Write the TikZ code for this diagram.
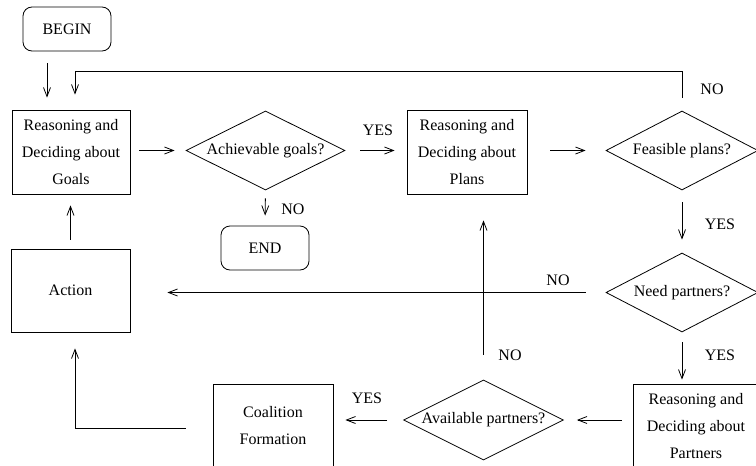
\documentclass[tikz,border=0pt]{standalone}
\usepackage{fontspec}
\setmainfont{Liberation Serif}
\usetikzlibrary{shapes.geometric,arrows.meta}
\begin{document}
\begin{tikzpicture}[x=1pt,y=-1pt,
  every node/.style={font=\fontsize{16}{27}\selectfont, inner sep=0pt},
  box/.style={draw, line width=0.8pt, align=center},
  term/.style={draw, line width=0.8pt, rounded corners=9pt, minimum width=88pt, minimum height=44pt},
  decision/.style={draw, line width=0.8pt, diamond, aspect=2},
  arr/.style={line width=0.8pt, -{Straight Barb[length=9pt,width=7pt]}},
  lbl/.style={}
]
\useasboundingbox (0,0) rectangle (756,466);
% terminals
\node[term] (begin) at (67,29) {BEGIN};
\node[term] (end) at (265,248) {END};
% boxes
\node[box, minimum width=118pt, minimum height=84pt] (goals) at (71,152) {Reasoning and\\Deciding about\\Goals};
\node[box, minimum width=120pt, minimum height=84pt] (plans) at (467,152) {Reasoning and\\Deciding about\\Plans};
\node[box, minimum width=119pt, minimum height=83pt] (action) at (70.5,290.5) {Action};
\node[box, minimum width=120pt, minimum height=84pt] (coal) at (273,426) {Coalition\\Formation};
\node[box, minimum width=126pt, minimum height=84pt] (partners) at (696,426) {Reasoning and\\Deciding about\\Partners};
% decisions
\node[decision, minimum width=159pt, minimum height=79pt] (ach) at (265.5,150.5) {\makebox[0pt]{Achievable goals?}};
\node[decision, minimum width=152pt, minimum height=79pt] (feas) at (682,150.5) {\makebox[0pt]{Feasible plans?}};
\node[decision, minimum width=152pt, minimum height=79pt] (need) at (682,292.5) {\makebox[0pt]{Need partners?}};
\node[decision, minimum width=160pt, minimum height=80pt] (avail) at (483.5,420) {\makebox[0pt]{Available partners?}};
% labels
\node[lbl] (l1) at (378,130) {YES};
\node[lbl] (l2) at (712,89) {NO};
\node[lbl] (l3) at (293,209) {NO};
\node[lbl] (l4) at (720,224) {YES};
\node[lbl] (l5) at (558,280) {NO};
\node[lbl] (l6) at (510,355) {NO};
\node[lbl] (l7) at (720,355) {YES};
\node[lbl] (l8) at (367,398) {YES};
% helper coordinates
\coordinate (c1) at (47,0);
\coordinate (looptop) at (75,71);
\coordinate (bend) at (75,428);
% connectors
\draw[arr, shorten <=12pt, shorten >=12pt] (begin.south -| c1) -- (goals.north -| c1);
\draw[arr, shorten <=13pt, shorten >=15pt] (feas.north) |- (looptop) -- (goals.north -| looptop);
\draw[arr, shorten <=9pt, shorten >=11pt] (goals.east |- ach.west) -- (ach.west);
\draw[arr, shorten <=15pt, shorten >=12pt] (ach.east) -- (plans.west |- ach.east);
\draw[arr, shorten <=23pt, shorten >=20pt] (plans.east |- feas.west) -- (feas.west);
\draw[arr, shorten <=8pt, shorten >=10pt] (ach.south) -- (end.north);
\draw[arr, shorten <=12pt, shorten >=13pt] (feas.south) -- (need.north);
\draw[arr, shorten <=20pt, shorten >=37pt] (need.west) -- (action.east |- need.west);
\draw[arr, shorten <=25pt, shorten >=26pt] (avail.north) -- (plans.south -| avail.north);
\draw[arr, shorten <=10pt, shorten >=4pt] (need.south) -- (partners.north -| need.south);
\draw[arr, shorten <=11pt, shorten >=13pt] (partners.west |- avail.east) -- (avail.east);
\draw[arr, shorten <=16pt, shorten >=12pt] (avail.west) -- (coal.east |- avail.west);
\draw[arr, shorten <=9pt, shorten >=11pt] (action.north) -- (goals.south -| action.north);
\draw[arr, shorten <=27pt, shorten >=16pt] (coal.west |- bend) -- (bend) -- (action.south -| bend);
\end{tikzpicture}
\end{document}
